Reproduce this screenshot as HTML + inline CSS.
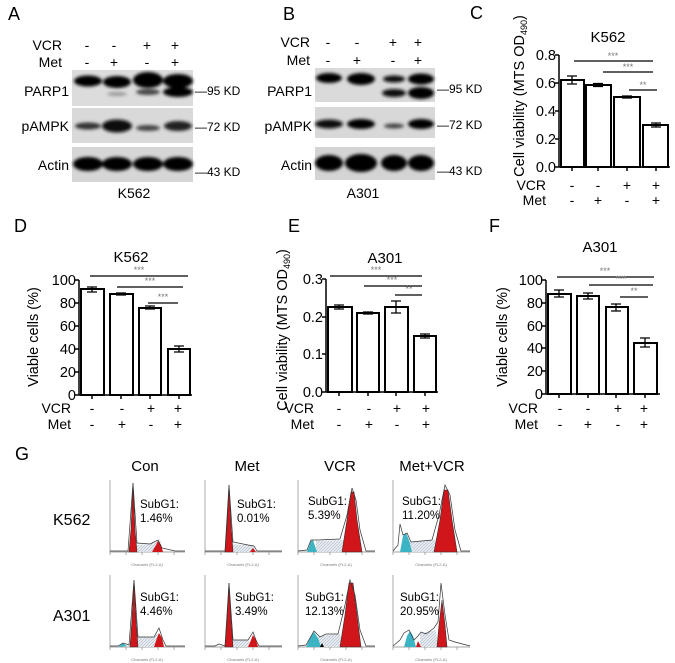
<!DOCTYPE html>
<html><head><meta charset="utf-8"><style>
html,body{margin:0;padding:0;background:#fff;}
svg{display:block;font-family:"Liberation Sans",Arial,sans-serif;}
</style></head><body>
<svg width="675" height="663" viewBox="0 0 675 663" xmlns="http://www.w3.org/2000/svg">
<defs>
<filter id="bl" x="-20%" y="-50%" width="140%" height="200%"><feGaussianBlur stdDeviation="1.5"/></filter>
<pattern id="hat" width="3" height="3" patternUnits="userSpaceOnUse"><rect width="3" height="3" fill="#e6ebf1"/><path d="M0 3L3 0" stroke="#9aa6b4" stroke-width="0.5"/></pattern>
</defs>

<!-- ===== A ===== -->
<text x="8" y="20" font-size="18">A</text>
<g font-size="14">
<text x="62" y="50" text-anchor="end">VCR</text>
<text x="62" y="67" text-anchor="end">Met</text>
<text x="87" y="50" text-anchor="middle">-</text><text x="114" y="50" text-anchor="middle">-</text><text x="147" y="50" text-anchor="middle">+</text><text x="175" y="50" text-anchor="middle">+</text>
<text x="87" y="67" text-anchor="middle">-</text><text x="114" y="67" text-anchor="middle">+</text><text x="147" y="67" text-anchor="middle">-</text><text x="175" y="67" text-anchor="middle">+</text>
<text x="69" y="96" text-anchor="end">PARP1</text>
<text x="69" y="131" text-anchor="end">pAMPK</text>
<text x="69" y="170" text-anchor="end">Actin</text>
<text x="134" y="198" text-anchor="middle">K562</text>
</g>
<rect x="72" y="70" width="121" height="36" fill="#dcdcdc"/>
<rect x="72" y="108" width="121" height="35" fill="#d9d9d9"/>
<rect x="72" y="147" width="121" height="35" fill="#d6d6d6"/>
<g filter="url(#bl)">
<ellipse cx="88" cy="81" rx="14" ry="5.5" fill="#000"/>
<ellipse cx="117" cy="82" rx="14" ry="6" fill="#000"/>
<ellipse cx="148" cy="80" rx="15" ry="8" fill="#000"/>
<ellipse cx="178" cy="81" rx="15" ry="7" fill="#000"/>
<ellipse cx="117" cy="94" rx="10" ry="2" fill="#999"/>
<ellipse cx="148" cy="92" rx="12" ry="3" fill="#444"/>
<ellipse cx="178" cy="92" rx="15" ry="5" fill="#000"/>
<ellipse cx="88" cy="126" rx="13" ry="3.5" fill="#333"/>
<ellipse cx="117" cy="126" rx="15" ry="6.5" fill="#111"/>
<ellipse cx="148" cy="128" rx="12" ry="3" fill="#444"/>
<ellipse cx="178" cy="126" rx="14" ry="5" fill="#222"/>
<ellipse cx="88" cy="164" rx="15" ry="7" fill="#000"/>
<ellipse cx="117" cy="164" rx="15" ry="7" fill="#000"/>
<ellipse cx="148" cy="164" rx="15" ry="7" fill="#000"/>
<ellipse cx="178" cy="164" rx="15" ry="7" fill="#000"/>
</g>
<g font-size="12">
<text x="195" y="95">—95 KD</text>
<text x="195" y="131">—72 KD</text>
<text x="195" y="176">—43 KD</text>
</g>

<!-- ===== B ===== -->
<text x="283" y="20" font-size="18">B</text>
<g font-size="14">
<text x="310" y="47" text-anchor="end">VCR</text>
<text x="310" y="65" text-anchor="end">Met</text>
<text x="328" y="47" text-anchor="middle">-</text><text x="357" y="47" text-anchor="middle">-</text><text x="393" y="47" text-anchor="middle">+</text><text x="418" y="47" text-anchor="middle">+</text>
<text x="328" y="65" text-anchor="middle">-</text><text x="357" y="65" text-anchor="middle">+</text><text x="393" y="65" text-anchor="middle">-</text><text x="418" y="65" text-anchor="middle">+</text>
<text x="312" y="96" text-anchor="end">PARP1</text>
<text x="312" y="131" text-anchor="end">pAMPK</text>
<text x="312" y="170" text-anchor="end">Actin</text>
<text x="363" y="198" text-anchor="middle">A301</text>
</g>
<rect x="315" y="68" width="120" height="34" fill="#dadada"/>
<rect x="315" y="107" width="120" height="31" fill="#d8d8d8"/>
<rect x="315" y="147" width="120" height="33" fill="#d4d4d4"/>
<g filter="url(#bl)">
<ellipse cx="329" cy="78" rx="13" ry="5" fill="#000"/>
<ellipse cx="361" cy="79" rx="14" ry="6" fill="#000"/>
<ellipse cx="394" cy="79" rx="11" ry="3.5" fill="#111"/>
<ellipse cx="421" cy="79" rx="13" ry="5.5" fill="#000"/>
<ellipse cx="394" cy="93" rx="12" ry="4" fill="#111"/>
<ellipse cx="421" cy="93" rx="13" ry="6" fill="#000"/>
<ellipse cx="329" cy="124" rx="14" ry="4.5" fill="#111"/>
<ellipse cx="361" cy="124" rx="14" ry="5" fill="#000"/>
<ellipse cx="394" cy="126" rx="10" ry="2.5" fill="#444"/>
<ellipse cx="421" cy="124" rx="13" ry="5" fill="#000"/>
<ellipse cx="329" cy="163" rx="14" ry="8" fill="#000"/>
<ellipse cx="361" cy="163" rx="16" ry="9" fill="#000"/>
<ellipse cx="394" cy="163" rx="13" ry="8" fill="#000"/>
<ellipse cx="421" cy="163" rx="13" ry="8" fill="#000"/>
</g>
<g font-size="12">
<text x="437" y="93">—95 KD</text>
<text x="437" y="129">—72 KD</text>
<text x="437" y="175">—43 KD</text>
</g>

<!-- ===== C ===== -->
<text x="470" y="19" font-size="18">C</text>
<text x="608" y="42" font-size="15" text-anchor="middle">K562</text>
<text transform="translate(524,96) rotate(-90)" font-size="14.5" text-anchor="middle">Cell viability (MTS OD<tspan font-size="9" dy="3">490</tspan><tspan dy="-3">)</tspan></text>
<g font-size="14.5" text-anchor="end">
<text x="556" y="172">0.0</text><text x="556" y="144">0.2</text><text x="556" y="116">0.4</text><text x="556" y="88">0.6</text><text x="556" y="60">0.8</text>
</g>
<g stroke="#000" stroke-width="1.5" fill="none">
<path d="M559 55V167H670M555 55H559M555 83H559M555 111H559M555 139H559M555 167H559"/>
<path d="M572 167v4M598 167v4M627 167v4M656 167v4"/>
</g>
<g stroke="#000" stroke-width="2" fill="#fff">
<rect x="561" y="80" width="23" height="87"/><rect x="586" y="85" width="25" height="82"/><rect x="614" y="97" width="26" height="70"/><rect x="643" y="125" width="25" height="42"/>
</g>
<g stroke="#000" stroke-width="1.3">
<path d="M572 76v8M567 76h10M567 84h10M598 83.5v3M593 83.5h10M593 86.5h10M627 96v2M622 96h10M622 98h10M656 123v4M651 123h10M651 127h10"/>
<path d="M574 61H653M603 72H653M629 90H657"/>
</g>
<g font-size="9" fill="#777" text-anchor="middle">
<text x="613" y="59">***</text><text x="628" y="70">***</text><text x="643" y="88">**</text>
</g>
<g font-size="14">
<text x="546" y="190" text-anchor="end">VCR</text><text x="546" y="205" text-anchor="end">Met</text>
<text x="572" y="190" text-anchor="middle">-</text><text x="598" y="190" text-anchor="middle">-</text><text x="627" y="190" text-anchor="middle">+</text><text x="656" y="190" text-anchor="middle">+</text>
<text x="572" y="205" text-anchor="middle">-</text><text x="598" y="205" text-anchor="middle">+</text><text x="627" y="205" text-anchor="middle">-</text><text x="656" y="205" text-anchor="middle">+</text>
</g>

<!-- ===== D ===== -->
<text x="14" y="232" font-size="18">D</text>
<text x="131" y="262" font-size="15" text-anchor="middle">K562</text>
<text transform="translate(38,337) rotate(-90)" font-size="14.5" text-anchor="middle">Viable cells (%)</text>
<g font-size="14.5" text-anchor="end">
<text x="76" y="400">0</text><text x="76" y="377">20</text><text x="76" y="354">40</text><text x="76" y="331">60</text><text x="76" y="308">80</text><text x="76" y="285">100</text>
</g>
<g stroke="#000" stroke-width="1.5" fill="none">
<path d="M79 280V395H192M75 280H79M75 303H79M75 326H79M75 349H79M75 372H79M75 395H79"/>
<path d="M92 395v4M121 395v4M150 395v4M179 395v4"/>
</g>
<g stroke="#000" stroke-width="2" fill="#fff">
<rect x="81" y="289" width="23" height="106"/><rect x="110" y="294" width="23" height="101"/><rect x="139" y="308" width="22" height="87"/><rect x="168" y="349" width="22" height="46"/>
</g>
<g stroke="#000" stroke-width="1.3">
<path d="M92 287v5M87 287h10M87 292h10M121 293v2M116 293h10M116 295h10M150 306v3M145 306h10M145 309h10M179 346v6M174 346h10M174 352h10"/>
<path d="M90 276H188M117 287H183M148 303H178"/>
</g>
<g font-size="9" fill="#777" text-anchor="middle">
<text x="139" y="273">***</text><text x="150" y="284">***</text><text x="163" y="300">***</text>
</g>
<g font-size="14">
<text x="71" y="413" text-anchor="end">VCR</text><text x="71" y="429" text-anchor="end">Met</text>
<text x="92" y="413" text-anchor="middle">-</text><text x="122" y="413" text-anchor="middle">-</text><text x="151" y="413" text-anchor="middle">+</text><text x="178" y="413" text-anchor="middle">+</text>
<text x="92" y="429" text-anchor="middle">-</text><text x="122" y="429" text-anchor="middle">+</text><text x="151" y="429" text-anchor="middle">-</text><text x="178" y="429" text-anchor="middle">+</text>
</g>

<!-- ===== E ===== -->
<text x="288" y="232" font-size="18">E</text>
<text x="385" y="263" font-size="15" text-anchor="middle">A301</text>
<text transform="translate(287,330) rotate(-90)" font-size="14.5" text-anchor="middle">Cell viability (MTS OD<tspan font-size="9" dy="3">490</tspan><tspan dy="-3">)</tspan></text>
<g font-size="14.5" text-anchor="end">
<text x="323" y="397">0.0</text><text x="323" y="359">0.1</text><text x="323" y="322">0.2</text><text x="323" y="284">0.3</text>
</g>
<g stroke="#000" stroke-width="1.5" fill="none">
<path d="M326 279V392H438M322 279H326M322 317H326M322 354H326M322 392H326"/>
<path d="M339 392v4M368 392v4M396 392v4M425 392v4"/>
</g>
<g stroke="#000" stroke-width="2" fill="#fff">
<rect x="328" y="307" width="24" height="85"/><rect x="357" y="313" width="22" height="79"/><rect x="385" y="307" width="23" height="85"/><rect x="414" y="336" width="22" height="56"/>
</g>
<g stroke="#000" stroke-width="1.3">
<path d="M339 305v4M334 305h10M334 309h10M368 312v2M363 312h10M363 314h10M396 301v12M391 301h10M391 313h10M425 334v4M420 334h10M420 338h10"/>
<path d="M330 276H422M364 286H422M395 295H422"/>
</g>
<g font-size="9" fill="#777" text-anchor="middle">
<text x="376" y="273">***</text><text x="392" y="283">***</text><text x="409" y="292">**</text>
</g>
<g font-size="14">
<text x="314" y="413" text-anchor="end">VCR</text><text x="314" y="429" text-anchor="end">Met</text>
<text x="339" y="413" text-anchor="middle">-</text><text x="369" y="413" text-anchor="middle">-</text><text x="397" y="413" text-anchor="middle">+</text><text x="426" y="413" text-anchor="middle">+</text>
<text x="339" y="429" text-anchor="middle">-</text><text x="369" y="429" text-anchor="middle">+</text><text x="397" y="429" text-anchor="middle">-</text><text x="426" y="429" text-anchor="middle">+</text>
</g>

<!-- ===== F ===== -->
<text x="489" y="232" font-size="18">F</text>
<text x="600" y="252" font-size="15" text-anchor="middle">A301</text>
<text transform="translate(507,337) rotate(-90)" font-size="14.5" text-anchor="middle">Viable cells (%)</text>
<g font-size="14.5" text-anchor="end">
<text x="543" y="399">0</text><text x="543" y="376">20</text><text x="543" y="353">40</text><text x="543" y="331">60</text><text x="543" y="308">80</text><text x="543" y="285">100</text>
</g>
<g stroke="#000" stroke-width="1.5" fill="none">
<path d="M546 280V394H660M542 280H546M542 303H546M542 326H546M542 348H546M542 371H546M542 394H546"/>
<path d="M559 394v4M588 394v4M616 394v4M645 394v4"/>
</g>
<g stroke="#000" stroke-width="2" fill="#fff">
<rect x="548" y="294" width="23" height="100"/><rect x="577" y="296" width="22" height="98"/><rect x="606" y="307" width="22" height="87"/><rect x="634" y="343" width="23" height="51"/>
</g>
<g stroke="#000" stroke-width="1.3">
<path d="M559 290v7M554 290h10M554 297h10M588 293v6M583 293h10M583 299h10M616 304v7M611 304h10M611 311h10M645 338v9M640 338h10M640 347h10"/>
<path d="M557 277H654M589 285H653M620 297H648"/>
</g>
<g font-size="9" fill="#777" text-anchor="middle">
<text x="605" y="274">***</text><text x="621" y="282">***</text><text x="634" y="294">**</text>
</g>
<g font-size="14">
<text x="538" y="413" text-anchor="end">VCR</text><text x="538" y="429" text-anchor="end">Met</text>
<text x="560" y="413" text-anchor="middle">-</text><text x="588" y="413" text-anchor="middle">-</text><text x="618" y="413" text-anchor="middle">+</text><text x="644" y="413" text-anchor="middle">+</text>
<text x="560" y="429" text-anchor="middle">-</text><text x="588" y="429" text-anchor="middle">+</text><text x="618" y="429" text-anchor="middle">-</text><text x="644" y="429" text-anchor="middle">+</text>
</g>

<!-- ===== G ===== -->
<text x="15" y="460" font-size="18">G</text>
<g font-size="15" text-anchor="middle">
<text x="145" y="471">Con</text><text x="247" y="471">Met</text><text x="340" y="471">VCR</text><text x="432" y="471">Met+VCR</text>
</g>
<g font-size="16">
<text x="53" y="525">K562</text><text x="53" y="621">A301</text>
</g>

<g stroke="#888" stroke-width="0.7" fill="none">
<path d="M110 480V552H185M205 480V552H282M298 480V552H375M393 480V552H470"/>
<path d="M110 575V647H185M205 575V647H282M298 575V647H375M393 575V647H470"/>
<path d="M110 552v3M126 552v3M142 552v3M158 552v3M174 552v3M205 552v3M221 552v3M237 552v3M253 552v3M269 552v3M298 552v3M314 552v3M330 552v3M346 552v3M362 552v3M393 552v3M409 552v3M425 552v3M441 552v3M457 552v3"/>
<path d="M110 647v3M126 647v3M142 647v3M158 647v3M174 647v3M205 647v3M221 647v3M237 647v3M253 647v3M269 647v3M298 647v3M314 647v3M330 647v3M346 647v3M362 647v3M393 647v3M409 647v3M425 647v3M441 647v3M457 647v3"/>
</g>
<g font-size="4" fill="#777" text-anchor="middle">
<text x="147" y="566">Channels (FL2-A)</text><text x="243" y="566">Channels (FL2-A)</text><text x="336" y="566">Channels (FL2-A)</text><text x="431" y="566">Channels (FL2-A)</text>
<text x="147" y="661">Channels (FL2-A)</text><text x="243" y="661">Channels (FL2-A)</text><text x="336" y="661">Channels (FL2-A)</text><text x="431" y="661">Channels (FL2-A)</text>
</g>

<!-- row1 -->
<path d="M136 545L150 544L156 542L160 540L163 552L135 552Z" fill="url(#hat)"/>
<path d="M129 552L131 530L133 483L135 530L137 552Z" fill="#d0151b" stroke="#333" stroke-width="0.6"/>
<path d="M152 552L156 545L158 541L161 545L163 552Z" fill="#d0151b"/>
<path d="M110 551L128 551L133 483L137 543L150 544L158 540L162 548L175 551L185 551" fill="none" stroke="#333" stroke-width="0.7"/>
<path d="M231 544L245 545L253 546L256 552L231 552Z" fill="url(#hat)"/>
<path d="M225 552L227 525L229 485L231 525L233 552Z" fill="#d0151b" stroke="#333" stroke-width="0.6"/>
<path d="M250 552L253 548L256 552Z" fill="#d0151b"/>
<path d="M205 551L225 551L229 485L233 542L248 545L254 546L257 551L282 551" fill="none" stroke="#333" stroke-width="0.7"/>
<path d="M316 541L345 540L349 552L316 552Z" fill="url(#hat)"/>
<path d="M307 552L311 541L313 540L317 552Z" fill="#3db4c4"/>
<path d="M342 552L347 520L351 492L354 492L357 520L362 552Z" fill="#d0151b" stroke="#333" stroke-width="0.6"/>
<path d="M298 551L307 550L311 540L318 540L340 539L347 515L352 488L356 500L360 530L366 551L375 551" fill="none" stroke="#333" stroke-width="0.7"/>
<path d="M409 542L435 540L439 552L409 552Z" fill="url(#hat)"/>
<path d="M400 552L403 536L406 533L409 540L412 552Z" fill="#3db4c4"/>
<path d="M434 552L440 520L444 490L448 490L452 520L457 552Z" fill="#d0151b" stroke="#333" stroke-width="0.6"/>
<path d="M393 551L398 545L400 524L403 535L407 533L411 542L432 540L439 515L445 485L450 495L455 530L461 551L470 551" fill="none" stroke="#333" stroke-width="0.7"/>

<!-- row2 -->
<path d="M136 637L154 637L157 632L160 647L136 647Z" fill="url(#hat)"/>
<path d="M118 647L123 643L127 646Z" fill="#3db4c4"/>
<path d="M130 647L132 620L134 580L136 620L138 647Z" fill="#d0151b" stroke="#333" stroke-width="0.6"/>
<path d="M154 647L157 638L159 633L162 638L164 647Z" fill="#d0151b"/>
<path d="M110 646L118 646L123 643L129 645L134 580L138 637L154 637L159 628L163 640L166 646L185 646" fill="none" stroke="#333" stroke-width="0.7"/>
<path d="M231 640L248 640L251 647L231 647Z" fill="url(#hat)"/>
<path d="M225 647L227 620L229 583L231 620L233 647Z" fill="#d0151b" stroke="#333" stroke-width="0.6"/>
<path d="M248 647L251 640L253 635L256 640L258 647Z" fill="#d0151b"/>
<path d="M205 646L215 646L219 644L225 646L229 583L233 640L248 640L253 632L256 640L259 646L282 646" fill="none" stroke="#333" stroke-width="0.7"/>
<path d="M318 636L340 634L343 647L318 647Z" fill="url(#hat)"/>
<path d="M306 647L310 638L314 632L318 638L321 647Z" fill="#3db4c4"/>
<path d="M320 647L322 643L324 647Z" fill="#000"/>
<path d="M340 647L345 615L349 583L353 583L357 615L361 647Z" fill="#d0151b" stroke="#333" stroke-width="0.6"/>
<path d="M298 646L306 645L314 631L320 637L326 634L338 634L345 605L350 580L355 595L360 630L366 646L375 646" fill="none" stroke="#333" stroke-width="0.7"/>
<path d="M420 633L436 630L438 647L420 647Z" fill="url(#hat)"/>
<path d="M404 647L407 636L410 631L413 636L416 647Z" fill="#3db4c4"/>
<path d="M416 647L418 641L421 647Z" fill="#d0151b"/>
<path d="M437 647L439 625L442 600L445 625L447 647Z" fill="#d0151b" stroke="#333" stroke-width="0.6"/>
<path d="M393 646L400 640L404 633L409 630L414 640L418 636L421 632L426 634L434 628L438 622L441 583L445 615L449 640L455 642L470 646" fill="none" stroke="#333" stroke-width="0.7"/>

<g font-size="11.5">
<text x="140" y="508">SubG1:</text><text x="140" y="522">1.46%</text>
<text x="237" y="508">SubG1:</text><text x="237" y="522">0.01%</text>
<text x="308" y="505">SubG1:</text><text x="308" y="519">5.39%</text>
<text x="402" y="505">SubG1:</text><text x="402" y="519">11.20%</text>
<text x="140" y="601">SubG1:</text><text x="140" y="615">4.46%</text>
<text x="235" y="601">SubG1:</text><text x="235" y="615">3.49%</text>
<text x="305" y="601">SubG1:</text><text x="305" y="615">12.13%</text>
<text x="400" y="601">SubG1:</text><text x="400" y="615">20.95%</text>
</g>
</svg>
</body></html>
